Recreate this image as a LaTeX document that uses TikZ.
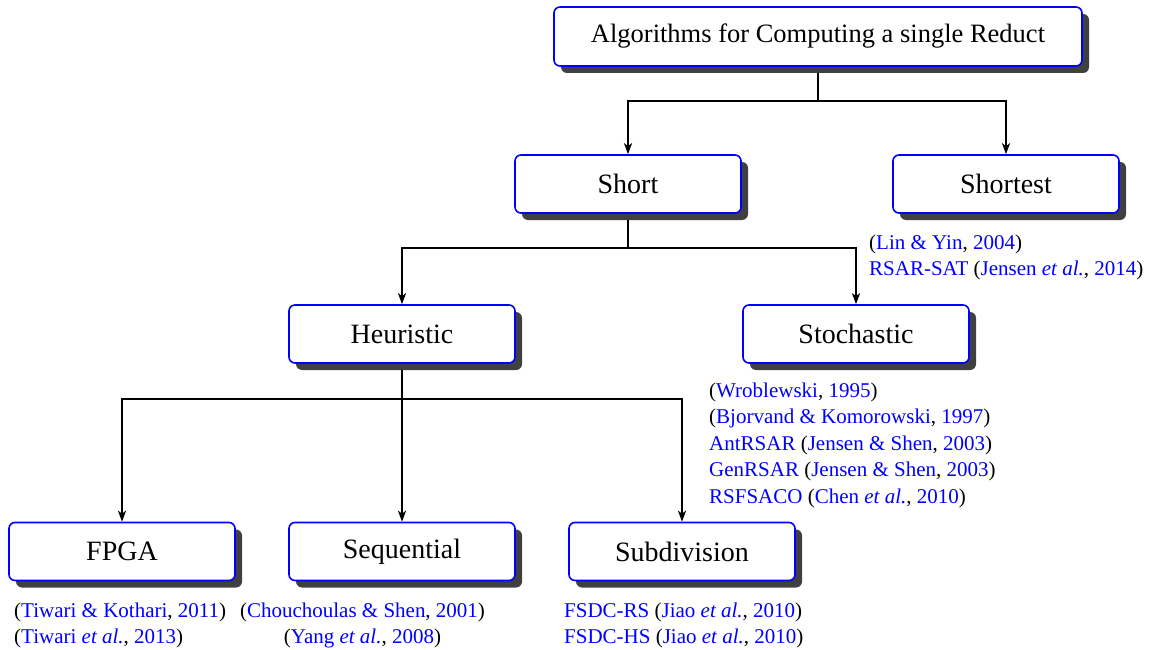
\documentclass[tikz,border=0pt]{standalone}
\usepackage{fontspec}
\setmainfont{Liberation Serif}
\usetikzlibrary{arrows.meta,shadows,backgrounds}
\definecolor{refblue}{RGB}{0,0,255}
\newcommand{\bl}[1]{\textcolor{refblue}{#1}}
\newcommand{\etal}{\textit{et al.}}
\begin{document}
\begin{tikzpicture}[x=1pt,y=-1pt,
  box/.style={draw=refblue, line width=1.6pt, fill=white, rounded corners=6pt,
    minimum width=226pt, minimum height=58pt, inner sep=0pt,
    font=\fontsize{28}{32}\selectfont,
    drop shadow={shadow xshift=7pt, shadow yshift=-7pt, fill=black!75, opacity=1}},
  cite/.style={inner sep=0pt, font=\fontsize{21}{26}\selectfont},
  link/.style={line width=2pt, -{Stealth[length=11pt,width=8pt,inset=3pt]}},
  stem/.style={line width=2pt}]
\useasboundingbox (0,0) rectangle (1154,650);

% tree nodes
\node[box, minimum width=528pt, minimum height=59pt, font=\fontsize{26.5}{30}\selectfont]
  (root) at (818,36.5) {Algorithms for Computing a single Reduct};
\node[box] (short) at (628,184) {Short};
\node[box] (shortest) at (1006,184) {Shortest};
\node[box] (heur) at (402,334) {Heuristic};
\node[box] (stoch) at (856,334) {Stochastic};
\node[box] (fpga) at (122,551.5) {FPGA};
\node[box] (seq) at (402,551.5) {Sequential};
\node[box] (sub) at (682,551.5) {Subdivision};

% junction points of the connectors
\coordinate (j0) at (818,101);
\coordinate (j1) at (628,248);
\coordinate (j2) at (402,399);

\begin{scope}[on background layer]
  \draw[stem] (root.south) -- (j0);
  \draw[link] (j0) -| (short.north);
  \draw[link] (j0) -| (shortest.north);
  \draw[stem] (short.south) -- (j1);
  \draw[link] (j1) -| (heur.north);
  \draw[link] (j1) -| (stoch.north);
  \draw[stem] (heur.south) -- (j2);
  \draw[link] (j2) -| (fpga.north);
  \draw[link] (j2) -- (seq.north);
  \draw[link] (j2) -| (sub.north);
\end{scope}

% references under the nodes
\node[cite, anchor=base west] (c1) at (869,249) {(\bl{Lin \& Yin}, \bl{2004})};
\node[cite, anchor=base west] (c2) at (869,275) {\bl{RSAR-SAT} (\bl{Jensen \etal}, \bl{2014})};

\node[cite, anchor=base west] (c3) at (709,397) {(\bl{Wroblewski}, \bl{1995})};
\node[cite, anchor=base west] (c4) at (709,423) {(\bl{Bjorvand \& Komorowski}, \bl{1997})};
\node[cite, anchor=base west] (c5) at (709,450) {\bl{AntRSAR} (\bl{Jensen \& Shen}, \bl{2003})};
\node[cite, anchor=base west] (c6) at (709,476) {\bl{GenRSAR} (\bl{Jensen \& Shen}, \bl{2003})};
\node[cite, anchor=base west] (c7) at (709,503) {\bl{RSFSACO} (\bl{Chen \etal}, \bl{2010})};

\node[cite, anchor=base west] (c8) at (14,617) {(\bl{Tiwari \& Kothari}, \bl{2011})};
\node[cite, anchor=base west] (c9) at (14,643) {(\bl{Tiwari \etal}, \bl{2013})};

\node[cite, anchor=base] (c10) at (362.5,617) {(\bl{Chouchoulas \& Shen}, \bl{2001})};
\node[cite, anchor=base] (c11) at (362.5,643) {(\bl{Yang \etal}, \bl{2008})};

\node[cite, anchor=base west] (c12) at (564,617) {\bl{FSDC-RS} (\bl{Jiao \etal}, \bl{2010})};
\node[cite, anchor=base west] (c13) at (564,643) {\bl{FSDC-HS} (\bl{Jiao \etal}, \bl{2010})};
\end{tikzpicture}
\end{document}
